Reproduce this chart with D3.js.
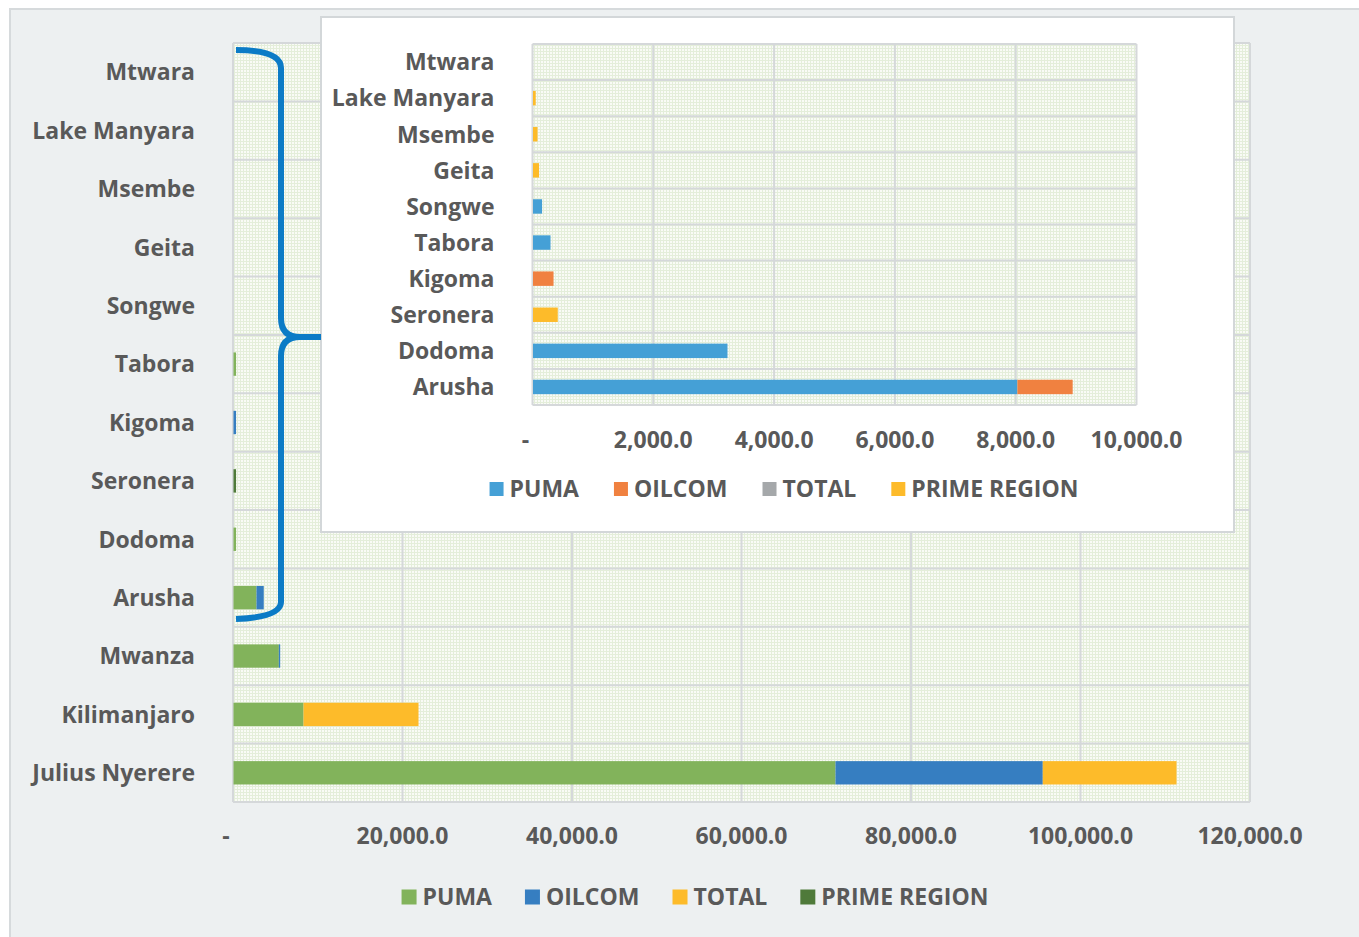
<!DOCTYPE html>
<html>
<head>
<meta charset="utf-8">
<script src="https://cdn.jsdelivr.net/npm/d3@7"></script>
<style>
  html, body { margin: 0; padding: 0; background: #fff; }
  svg { display: block; }
  text { font-family: 'Open Sans', sans-serif; font-weight: 700; fill: #595959; }
</style>
</head>
<body>
<svg id="chart" width="1359" height="937"></svg>
<script>
// data
const seriesNames = ['PUMA', 'OILCOM', 'TOTAL', 'PRIME REGION'];

const mainCategories = ['Mtwara', 'Lake Manyara', 'Msembe', 'Geita', 'Songwe', 'Tabora', 'Kigoma',
  'Seronera', 'Dodoma', 'Arusha', 'Mwanza', 'Kilimanjaro', 'Julius Nyerere'];
const mainPuma = [0, 0, 0, 0, 0, 300, 0, 0, 300, 2710, 5350, 8260, 71030];
const mainOilcom = [0, 0, 0, 0, 0, 0, 300, 0, 0, 860, 160, 0, 24460];
const mainTotal = [0, 0, 0, 0, 0, 0, 0, 0, 0, 0, 0, 13570, 15780];
const mainPrime = [0, 0, 0, 0, 0, 0, 0, 300, 0, 0, 0, 0, 0];
const mainTicks = [0, 20000, 40000, 60000, 80000, 100000, 120000];

const insetCategories = ['Mtwara', 'Lake Manyara', 'Msembe', 'Geita', 'Songwe', 'Tabora', 'Kigoma',
  'Seronera', 'Dodoma', 'Arusha'];
const insetPuma = [0, 0, 0, 0, 150, 290, 0, 0, 3220, 8020];
const insetOilcom = [0, 0, 0, 0, 0, 0, 340, 0, 0, 915];
const insetTotal = [0, 0, 0, 0, 0, 0, 0, 0, 0, 0];
const insetPrime = [0, 45, 75, 100, 0, 0, 0, 410, 0, 0];
const insetTicks = [0, 2000, 4000, 6000, 8000, 10000];

const mainColors = ['#82b35b', '#367ec1', '#fdbb2a', '#4f7a3a'];
const insetColors = ['#45a0d6', '#f08140', '#a5a8aa', '#fdbb2a'];
const gridColor = '#d5d8da';

const svg = d3.select('#chart');
const tickFmt = (d) => (d === 0 ? '-' : d3.format(',.1f')(d));

// dotted plot background
const pat = svg.append('defs').append('pattern')
  .attr('id', 'dots').attr('width', 3).attr('height', 3)
  .attr('patternUnits', 'userSpaceOnUse');
pat.append('rect').attr('width', 3).attr('height', 3).attr('fill', '#e4eeda');
pat.append('rect').attr('x', 1).attr('y', 1).attr('width', 2).attr('height', 2).attr('fill', '#f9fbf6');

// outer panel
svg.append('rect')
  .attr('x', 10).attr('y', 9).attr('width', 1365).attr('height', 945)
  .attr('fill', '#edf0f1').attr('stroke', '#d6dadc').attr('stroke-width', 2);

function drawChart(g, opts) {
  const { categories, values, colors, ticks, x0, x1, y0, y1, maxV, legendCenter, tickY, legendY, sq, gap } = opts;

  const x = d3.scaleLinear().domain([0, maxV]).range([x0, x1]);
  const y = d3.scaleBand().domain(categories).range([y0, y1]).paddingInner(0.6).paddingOuter(0.3);

  const rows = categories.map((c, i) => {
    const row = { cat: c };
    seriesNames.forEach((s, k) => (row[s] = values[k][i]));
    return row;
  });
  const stacked = d3.stack().keys(seriesNames)(rows);

  g.append('rect')
    .attr('x', x0).attr('y', y0).attr('width', x1 - x0).attr('height', y1 - y0)
    .attr('fill', 'url(#dots)');

  // gridlines
  const step = y.step();
  g.append('g').selectAll('line')
    .data(d3.range(categories.length + 1))
    .enter().append('line')
    .attr('x1', x0).attr('x2', x1)
    .attr('y1', (i) => y0 + i * step).attr('y2', (i) => y0 + i * step)
    .attr('stroke', gridColor).attr('stroke-width', 2);
  g.append('g').selectAll('line')
    .data(ticks)
    .enter().append('line')
    .attr('x1', (d) => x(d)).attr('x2', (d) => x(d))
    .attr('y1', y0).attr('y2', y1)
    .attr('stroke', gridColor).attr('stroke-width', 2);

  // bars
  g.append('g').selectAll('g')
    .data(stacked)
    .enter().append('g')
    .attr('fill', (d, k) => colors[k])
    .selectAll('rect')
    .data((d) => d)
    .enter().append('rect')
    .attr('x', (d) => x(d[0]) + 0.5)
    .attr('width', (d) => Math.max(0, x(d[1]) - x(d[0])))
    .attr('y', (d) => y(d.data.cat))
    .attr('height', y.bandwidth());

  // category labels
  g.append('g').selectAll('text')
    .data(categories)
    .enter().append('text')
    .attr('x', x0 - 38)
    .attr('y', (d) => y(d) + y.bandwidth() / 2)
    .attr('dy', '0.36em')
    .attr('text-anchor', 'end')
    .attr('font-size', 23)
    .text((d) => d);

  // value axis labels
  g.append('g').selectAll('text')
    .data(ticks)
    .enter().append('text')
    .attr('x', (d) => x(d) + (d === 0 ? -7 : 0))
    .attr('y', tickY)
    .attr('dy', '0.36em')
    .attr('text-anchor', 'middle')
    .attr('font-size', 23)
    .text(tickFmt);

  // legend
  const leg = g.append('g');
  const items = leg.selectAll('g').data(seriesNames).enter().append('g');
  items.append('rect').attr('width', sq).attr('height', sq).attr('y', -sq / 2)
    .attr('fill', (d, k) => colors[k]);
  items.append('text').attr('x', sq + 6).attr('dy', '0.36em').attr('font-size', 23).text((d) => d);
  let cx = 0;
  items.each(function () {
    d3.select(this).attr('transform', `translate(${cx},0)`);
    cx += sq + 6 + d3.select(this).select('text').node().getComputedTextLength() + gap;
  });
  const total = cx - gap;
  leg.attr('transform', `translate(${legendCenter - total / 2},${legendY})`);
}

// main chart
drawChart(svg.append('g'), {
  categories: mainCategories,
  values: [mainPuma, mainOilcom, mainTotal, mainPrime],
  colors: mainColors,
  ticks: mainTicks,
  x0: 233, x1: 1250, y0: 43, y1: 802, maxV: 120000,
  tickY: 836, legendY: 897, legendCenter: 695, sq: 15, gap: 33
});

// inset chart
svg.append('rect')
  .attr('x', 321).attr('y', 17).attr('width', 913).attr('height', 515)
  .attr('fill', '#fff').attr('stroke', '#d3d7d9').attr('stroke-width', 2);

drawChart(svg.append('g'), {
  categories: insetCategories,
  values: [insetPuma, insetOilcom, insetTotal, insetPrime],
  colors: insetColors,
  ticks: insetTicks,
  x0: 532.5, x1: 1136.5, y0: 44, y1: 405, maxV: 10000,
  tickY: 440, legendY: 489, legendCenter: 784, sq: 14, gap: 35
});

// brace linking Arusha..Mtwara to the inset
svg.append('path')
  .attr('d', 'M236,50 Q281,50 281,68 L281,318 Q281,337 300,337 L321,337 M300,337 Q281,337 281,356 L281,602 Q281,617 236,619')
  .attr('fill', 'none')
  .attr('stroke', '#0b7bc6')
  .attr('stroke-width', 6)
  .attr('stroke-linejoin', 'round');
</script>
</body>
</html>
